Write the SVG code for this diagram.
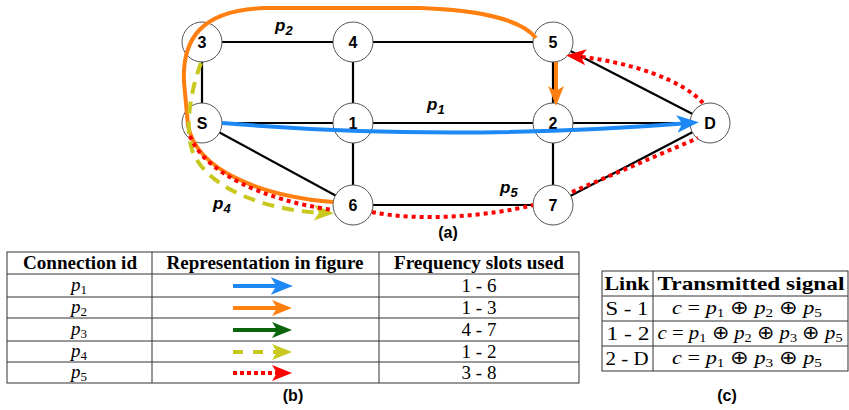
<svg xmlns="http://www.w3.org/2000/svg" width="849" height="410" viewBox="0 0 849 410">
<style>
.edge{stroke:#000;stroke-width:2.2;fill:none}
.node circle{fill:#fff;stroke:#555;stroke-width:1}
.node text{font-family:"Liberation Sans",Arial,sans-serif;font-weight:bold;font-size:16px;text-anchor:middle}
.plabel{font-family:"Liberation Sans",Arial,sans-serif;font-weight:bold;font-style:italic;font-size:17px}
.cap{font-family:"Liberation Sans",Arial,sans-serif;font-weight:bold;font-size:16px;text-anchor:middle}
.grid{stroke:#333;stroke-width:1;fill:none}
.th{font-family:"Liberation Serif","Times New Roman",serif;font-weight:bold;font-size:19px;text-anchor:middle}
.td{font-family:"Liberation Serif","Times New Roman",serif;font-size:19px;text-anchor:middle}
.it{font-style:italic}
.sub{font-size:13px}
</style>
<defs>
<marker id="ab" viewBox="0 0 20 16" refX="12" refY="8" markerWidth="22" markerHeight="18" markerUnits="userSpaceOnUse" orient="auto"><path d="M0,0 L20,8 L0,16 L5,8 z" fill="#1e88f5"/></marker>
<marker id="ao" viewBox="0 0 20 16" refX="12" refY="8" markerWidth="20" markerHeight="17" markerUnits="userSpaceOnUse" orient="auto"><path d="M0,0 L20,8 L0,16 L5,8 z" fill="#ff8010"/></marker>
<marker id="ag" viewBox="0 0 20 16" refX="12" refY="8" markerWidth="20" markerHeight="17" markerUnits="userSpaceOnUse" orient="auto"><path d="M0,0 L20,8 L0,16 L5,8 z" fill="#0a640a"/></marker>
<marker id="ay" viewBox="0 0 20 16" refX="12" refY="8" markerWidth="20" markerHeight="17" markerUnits="userSpaceOnUse" orient="auto"><path d="M0,0 L20,8 L0,16 L5,8 z" fill="#c8c81e"/></marker>
<marker id="ar" viewBox="0 0 20 16" refX="12" refY="8" markerWidth="20" markerHeight="17" markerUnits="userSpaceOnUse" orient="auto"><path d="M0,0 L20,8 L0,16 L5,8 z" fill="#ff0000"/></marker>
</defs>

<g id="edges">
<line class="edge" x1="202" y1="42" x2="553" y2="42"/>
<line class="edge" x1="202" y1="42" x2="202" y2="123"/>
<line class="edge" x1="353" y1="42" x2="353" y2="205"/>
<line class="edge" x1="553" y1="42" x2="553" y2="205"/>
<line class="edge" x1="202" y1="123" x2="710" y2="123"/>
<line class="edge" x1="202" y1="123" x2="353" y2="205"/>
<line class="edge" x1="353" y1="205" x2="553" y2="205"/>
<line class="edge" x1="553" y1="205" x2="710" y2="123"/>
<line class="edge" x1="553" y1="42" x2="710" y2="123"/>
</g>

<g id="node-3" class="node"><circle cx="202" cy="42" r="20"/><text x="202" y="48">3</text></g>
<g id="node-4" class="node"><circle cx="353" cy="42" r="20"/><text x="353" y="48">4</text></g>
<g id="node-5" class="node"><circle cx="553" cy="42" r="20"/><text x="553" y="48">5</text></g>
<g id="node-S" class="node"><circle cx="202" cy="123" r="20"/><text x="202" y="129">S</text></g>
<g id="node-1" class="node"><circle cx="353" cy="123" r="20"/><text x="353" y="129">1</text></g>
<g id="node-2" class="node"><circle cx="553" cy="123" r="20"/><text x="553" y="129">2</text></g>
<g id="node-D" class="node"><circle cx="710" cy="123" r="20"/><text x="710" y="129">D</text></g>
<g id="node-6" class="node"><circle cx="353" cy="205" r="20"/><text x="353" y="211">6</text></g>
<g id="node-7" class="node"><circle cx="553" cy="205" r="20"/><text x="553" y="211">7</text></g>

<g id="paths">
<path d="M222,123 Q450,142 690,123" stroke="#1e88f5" stroke-width="4" fill="none" marker-end="url(#ab)"/>
<path d="M333,202 C260,196 196,170 188,125 L184,82 C182,40 200,10 265,8 L420,8 C480,10 522,20 536,38 M556,62 L556,98" stroke="#ff8010" stroke-width="4" fill="none" marker-end="url(#ao)"/>
<path d="M201,63 C190,92 185,128 192,150 C205,186 262,211 326,213" stroke="#c8c81e" stroke-width="4" stroke-dasharray="12,8" fill="none" marker-end="url(#ay)"/>
<path d="M190,136 C204,172 262,200 333,210 M372,212 C420,222 490,216 533,205 M572,192 L698,138 M703,103 C682,80 632,62 574,56" stroke="#ff0000" stroke-width="4" stroke-dasharray="4,4" fill="none" marker-end="url(#ar)"/>
</g>

<text class="plabel" x="275" y="31">p<tspan font-size="13" dy="4">2</tspan></text>
<text class="plabel" x="427" y="110">p<tspan font-size="13" dy="4">1</tspan></text>
<text class="plabel" x="500" y="193">p<tspan font-size="13" dy="4">5</tspan></text>
<text class="plabel" x="213" y="209">p<tspan font-size="13" dy="4">4</tspan></text>
<text class="cap" x="448" y="238">(a)</text>

<g id="table-b">
<rect class="grid" x="7" y="252" width="572" height="131"/>
<line class="grid" x1="7" y1="274" x2="579" y2="274"/>
<line class="grid" x1="7" y1="297" x2="579" y2="297"/>
<line class="grid" x1="7" y1="318" x2="579" y2="318"/>
<line class="grid" x1="7" y1="341" x2="579" y2="341"/>
<line class="grid" x1="7" y1="362" x2="579" y2="362"/>
<line class="grid" x1="152" y1="252" x2="152" y2="383"/>
<line class="grid" x1="379" y1="252" x2="379" y2="383"/>
<text class="th" x="80" y="269" textLength="114" lengthAdjust="spacingAndGlyphs">Connection id</text>
<text class="th" x="265" y="269" textLength="197" lengthAdjust="spacingAndGlyphs">Representation in figure</text>
<text class="th" x="479" y="269" textLength="170" lengthAdjust="spacingAndGlyphs">Frequency slots used</text>
<text class="td" x="79" y="291"><tspan class="it">p</tspan><tspan class="sub" dy="3">1</tspan></text>
<text class="td" x="79" y="313"><tspan class="it">p</tspan><tspan class="sub" dy="3">2</tspan></text>
<text class="td" x="79" y="335"><tspan class="it">p</tspan><tspan class="sub" dy="3">3</tspan></text>
<text class="td" x="79" y="357"><tspan class="it">p</tspan><tspan class="sub" dy="3">4</tspan></text>
<text class="td" x="79" y="378"><tspan class="it">p</tspan><tspan class="sub" dy="3">5</tspan></text>
<line x1="233" y1="286" x2="284" y2="286" stroke="#1e88f5" stroke-width="4" marker-end="url(#ao)" style="marker-end:url(#ab)"/>
<line x1="233" y1="308" x2="284" y2="308" stroke="#ff8010" stroke-width="4" marker-end="url(#ao)"/>
<line x1="233" y1="330" x2="284" y2="330" stroke="#0a640a" stroke-width="4" marker-end="url(#ag)"/>
<line x1="233" y1="352" x2="284" y2="352" stroke="#c8c81e" stroke-width="4" stroke-dasharray="10,10" marker-end="url(#ay)"/>
<line x1="233" y1="373" x2="284" y2="373" stroke="#ff0000" stroke-width="4" stroke-dasharray="4,3" marker-end="url(#ar)"/>
<text class="td" x="479" y="292">1 - 6</text>
<text class="td" x="479" y="314">1 - 3</text>
<text class="td" x="479" y="336">4 - 7</text>
<text class="td" x="479" y="358">1 - 2</text>
<text class="td" x="479" y="379">3 - 8</text>
</g>
<text class="cap" x="293" y="401">(b)</text>

<g id="table-c">
<rect class="grid" x="602" y="271" width="246" height="100"/>
<line class="grid" x1="602" y1="296" x2="848" y2="296"/>
<line class="grid" x1="602" y1="321" x2="848" y2="321"/>
<line class="grid" x1="602" y1="346" x2="848" y2="346"/>
<line class="grid" x1="653" y1="271" x2="653" y2="371"/>
<text class="th" x="627" y="290" textLength="45" lengthAdjust="spacingAndGlyphs">Link</text>
<text class="th" x="751" y="290" textLength="187" lengthAdjust="spacingAndGlyphs">Transmitted signal</text>
<text class="td" x="627" y="315" textLength="43" lengthAdjust="spacingAndGlyphs">S - 1</text>
<text class="td" x="628" y="340" textLength="43" lengthAdjust="spacingAndGlyphs">1 - 2</text>
<text class="td" x="627" y="365" textLength="43" lengthAdjust="spacingAndGlyphs">2 - D</text>
<text class="td" x="747" y="314" textLength="150" lengthAdjust="spacingAndGlyphs"><tspan class="it">c</tspan> = <tspan class="it">p</tspan><tspan class="sub" dy="3">1</tspan><tspan dy="-3"> ⊕ </tspan><tspan class="it">p</tspan><tspan class="sub" dy="3">2</tspan><tspan dy="-3"> ⊕ </tspan><tspan class="it">p</tspan><tspan class="sub" dy="3">5</tspan></text>
<text class="td" x="750" y="339" textLength="185" lengthAdjust="spacingAndGlyphs"><tspan class="it">c</tspan> = <tspan class="it">p</tspan><tspan class="sub" dy="3">1</tspan><tspan dy="-3"> ⊕ </tspan><tspan class="it">p</tspan><tspan class="sub" dy="3">2</tspan><tspan dy="-3"> ⊕ </tspan><tspan class="it">p</tspan><tspan class="sub" dy="3">3</tspan><tspan dy="-3"> ⊕ </tspan><tspan class="it">p</tspan><tspan class="sub" dy="3">5</tspan></text>
<text class="td" x="747" y="364" textLength="150" lengthAdjust="spacingAndGlyphs"><tspan class="it">c</tspan> = <tspan class="it">p</tspan><tspan class="sub" dy="3">1</tspan><tspan dy="-3"> ⊕ </tspan><tspan class="it">p</tspan><tspan class="sub" dy="3">3</tspan><tspan dy="-3"> ⊕ </tspan><tspan class="it">p</tspan><tspan class="sub" dy="3">5</tspan></text>
</g>
<text class="cap" x="727" y="401">(c)</text>
</svg>
